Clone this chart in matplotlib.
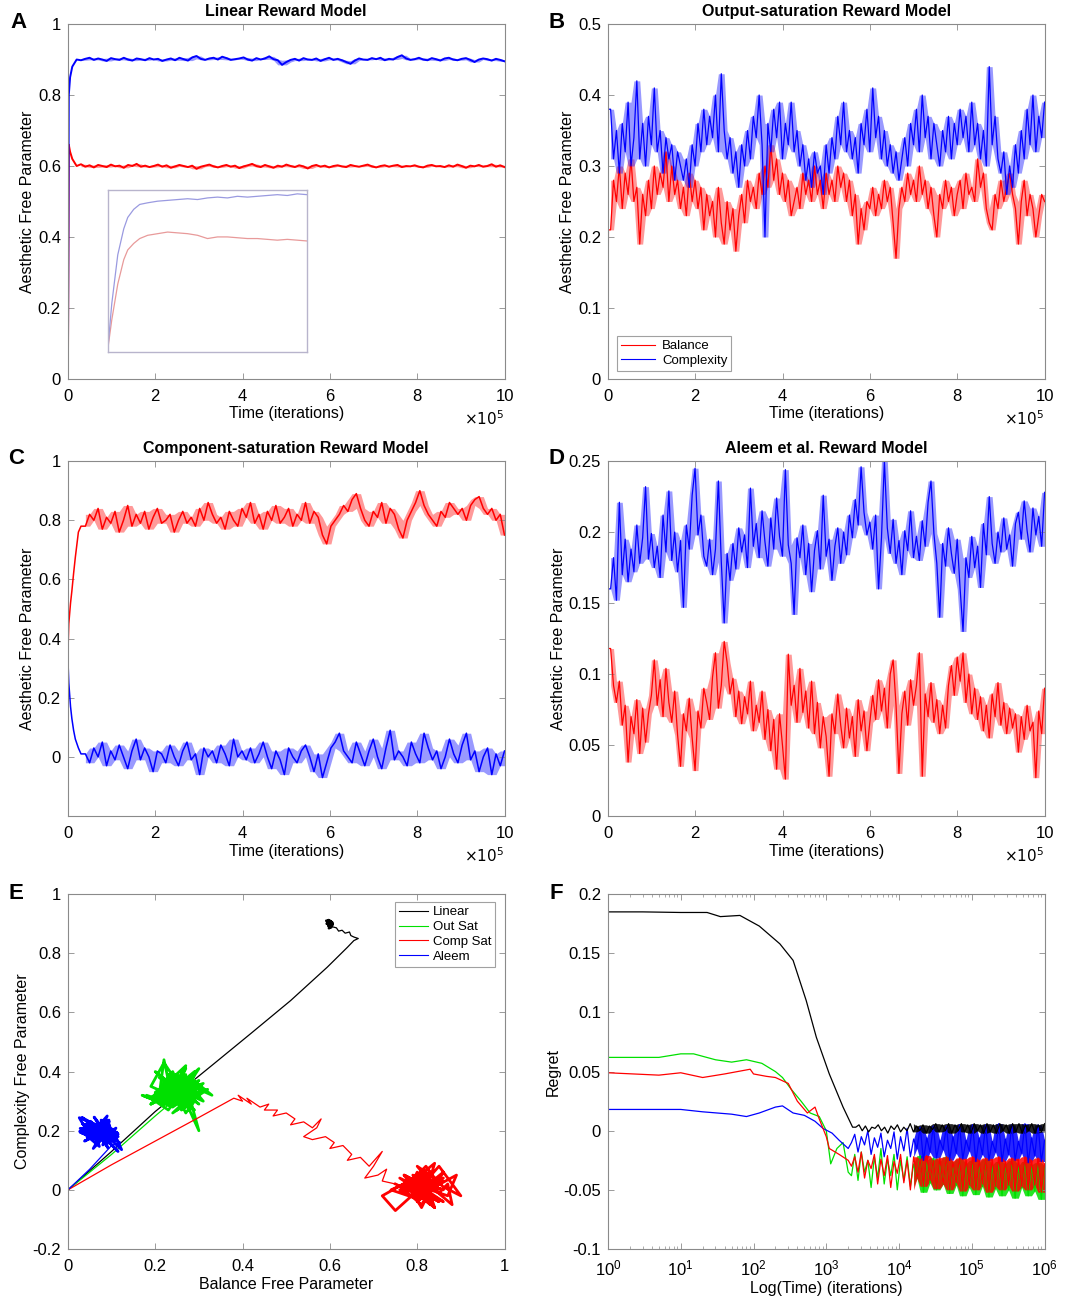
import numpy as np
import matplotlib.pyplot as plt

plt.rcParams['font.family'] = ['Liberation Sans', 'DejaVu Sans']

RED = '#ff0000'
BLUE = '#0000ff'
GREEN = '#00e000'
BLACK = '#000000'

# ---------------- A: Linear reward model (time in units of 1e5) ----------------
a_t0 = [0, 0.02, 0.05, 0.1, 0.15, 0.2]
a_bal0 = [0, 0.66, 0.64, 0.62, 0.61, 0.60]
a_cpx0 = [0, 0.80, 0.85, 0.88, 0.89, 0.90]
a_bal = [605, 598, 602, 596, 603, 600, 597, 604, 599, 601, 595, 603, 600, 606, 598, 601, 597, 600, 604, 598,
         602, 595, 599, 603, 600, 597, 601, 592, 598, 601, 604, 599, 596, 600, 603, 598, 601, 594, 599, 602,
         606, 600, 597, 603, 599, 595, 601, 598, 604, 600, 597, 602, 599, 593, 600, 603, 598, 601, 596, 600,
         602, 599, 597, 603, 600, 598, 601, 604, 599, 596, 600, 602, 598, 601, 603, 597, 600, 599, 602, 598,
         596, 601, 603, 599, 600, 597, 602, 598, 604, 600, 595, 601, 599, 603, 598, 600, 605, 598, 602, 597]
a_cpx = [898, 902, 905, 899, 903, 900, 896, 904, 901, 899, 905, 900, 897, 903, 901, 898, 904, 900, 902, 896,
         900, 903, 898, 905, 901, 897, 906, 910, 902, 899, 903, 905, 900, 908, 904, 899, 901, 903, 906, 900,
         897, 904, 900, 903, 909, 901, 898, 885, 893, 899, 902, 897, 904, 900, 899, 903, 896, 901, 905, 899,
         902, 898, 893, 888, 897, 903, 900, 899, 904, 901, 905, 898, 902, 900, 907, 912, 903, 899, 901, 905,
         900, 898, 904, 901, 897, 903, 905, 900, 898, 902, 904, 899, 893, 900, 903, 901, 897, 902, 899, 895]

# inset of A (early transient, normalised box coordinates)
ins_x = [0, 0.02, 0.05, 0.08, 0.1, 0.13, 0.16, 0.2, 0.25, 0.3, 0.35, 0.4, 0.45, 0.5, 0.55, 0.6,
         0.65, 0.7, 0.75, 0.8, 0.85, 0.9, 0.95, 1.0]
ins_cpx = [0.02, 0.30, 0.60, 0.76, 0.83, 0.88, 0.91, 0.92, 0.93, 0.935, 0.94, 0.945, 0.94, 0.95, 0.955, 0.95,
           0.96, 0.955, 0.96, 0.965, 0.97, 0.965, 0.975, 0.97]
ins_bal = [0.02, 0.20, 0.42, 0.57, 0.63, 0.67, 0.70, 0.72, 0.73, 0.74, 0.735, 0.73, 0.72, 0.70, 0.71, 0.71,
           0.705, 0.70, 0.70, 0.695, 0.69, 0.695, 0.69, 0.685]

# ---------------- B: Output-saturation ----------------
b_t0 = [0, 0.01]
b_bal0 = [0, 0.21]
b_cpx0 = [0, 0.38]
b_cpx = [38, 31, 35, 29, 36, 32, 39, 30, 34, 42, 31, 36, 30, 37, 33,
         41, 32, 35, 29, 34, 31, 33, 28, 32, 30, 28, 31, 27, 33, 30,
         36, 32, 38, 33, 37, 34, 40, 32, 43, 35, 31, 34, 29, 32, 27,
         33, 30, 35, 31, 37, 34, 40, 33, 20, 36, 32, 38, 34, 39, 31,
         36, 33, 39, 32, 35, 30, 33, 28, 31, 27, 32, 29, 30, 26, 33,
         29, 34, 31, 37, 33, 39, 32, 35, 31, 34, 29, 36, 33, 38, 32,
         41, 34, 37, 31, 35, 30, 33, 29, 32, 28, 31, 34, 30, 36, 33,
         38, 32, 40, 34, 37, 31, 36, 33, 30, 35, 32, 37, 31, 36, 33,
         38, 34, 37, 32, 39, 33, 36, 31, 35, 30, 44, 33, 37, 31, 29,
         32, 26, 30, 27, 33, 29, 35, 31, 38, 33, 40, 32, 37, 34, 39]
b_bal = [21, 28, 25, 30, 24, 29, 26, 31, 25, 27, 19, 26, 23, 28, 24,
         30, 26, 29, 27, 32, 25, 30, 26, 28, 24, 27, 23, 29, 25, 28,
         24, 27, 21, 26, 23, 25, 20, 27, 22, 19, 25, 21, 24, 18, 23,
         26, 22, 28, 25, 27, 24, 29, 26, 30, 27, 33, 28, 31, 26, 29,
         25, 28, 23, 25, 27, 24, 29, 26, 28, 25, 30, 26, 28, 24, 29,
         26, 28, 25, 30, 27, 29, 25, 28, 23, 26, 19, 24, 21, 25, 24,
         27, 23, 26, 24, 28, 25, 27, 22, 17, 24, 27, 25, 29, 26, 28,
         25, 30, 26, 28, 24, 27, 23, 20, 26, 24, 28, 25, 27, 23, 26,
         28, 24, 29, 26, 27, 25, 31, 27, 29, 24, 22, 21, 26, 24, 28,
         25, 27, 29, 26, 24, 19, 25, 28, 23, 26, 24, 20, 23, 26, 25]

# ---------------- C: Component-saturation ----------------
c_t0 = [0, 0.02, 0.06, 0.09, 0.13, 0.17, 0.24, 0.3]
c_bal0 = [0.35, 0.45, 0.52, 0.56, 0.62, 0.675, 0.76, 0.78]
c_cpx0 = [0.33, 0.25, 0.17, 0.13, 0.09, 0.06, 0.03, 0.01]
c_bal = [78, 82, 80, 84, 77, 81, 79, 83, 76, 80, 85, 78, 82, 79, 83, 77, 81, 84, 79, 80,
         82, 76, 80, 83, 79, 81, 78, 84, 80, 86, 82, 79, 81, 77, 83, 80, 78, 84, 81, 86,
         79, 82, 77, 83, 80, 85, 79, 81, 84, 78, 82, 80, 86, 79, 83, 81, 75, 72, 78, 80,
         82, 85, 83, 87, 89, 84, 80, 78, 83, 81, 86, 79, 84, 82, 77, 74, 80, 83, 86, 90,
         85, 82, 80, 78, 83, 81, 86, 84, 82, 84, 80, 85, 87, 88, 84, 82, 84, 80, 82, 75]
c_cpx = [1, -2, 3, 0, 5, -3, 2, -1, 4, 0, -4, 2, 6, -1, 3, 0, -5, 2, 1, -2,
         4, 0, -3, 2, 5, -1, 1, -6, 3, 0, 2, -2, 4, 1, -3, 6, 0, 2, -1, 3,
         -2, 1, 5, 0, -4, 2, -1, -6, 3, 0, -2, 2, 4, 0, -5, 1, -7, -2, 3, 5,
         8, 2, 0, -2, 5, 1, -3, 2, 6, 0, -4, 3, 9, -1, 2, 0, -3, 5, 1, -2,
         8, 3, -1, 2, -4, 0, 6, 1, -2, 4, 8, -1, 2, -5, 0, 3, -6, 1, -3, 2]

# ---------------- D: Aleem et al. ----------------
d_t0 = [0, 0.01]
d_bal0 = [0, 0.118]
d_cpx0 = [0, 0.16]
d_cpx = [160, 182, 152, 221, 170, 195, 165, 188, 172, 205, 178, 196, 232, 181, 199,
         175, 190, 168, 212, 186, 229, 180, 200, 172, 194, 147, 205, 188, 226, 245,
         198, 212, 183, 176, 195, 170, 188, 236, 179, 136, 185, 166, 192, 174, 203,
         186, 198, 175, 231, 190, 206, 182, 215, 193, 176, 210, 188, 224, 197, 183,
         244, 191, 178, 142, 196, 182, 205, 170, 192, 158, 187, 201, 174, 226, 183,
         195, 166, 190, 203, 178, 200, 184, 212, 196, 223, 205, 246, 214, 198, 207,
         188, 212, 160, 196, 250, 203, 185, 209, 178, 194, 170, 201, 187, 215, 182,
         197, 180, 208, 190, 221, 236, 199, 178, 140, 192, 176, 203, 185, 171, 195,
         160, 130, 182, 168, 197, 175, 190, 161, 206, 184, 225, 192, 178, 200, 186,
         210, 188, 198, 176, 206, 214, 195, 222, 201, 186, 217, 198, 211, 190, 228]
d_bal = [118, 92, 80, 95, 64, 78, 38, 70, 58, 82, 44, 76, 52, 72, 85,
         110, 78, 96, 70, 104, 80, 66, 88, 57, 35, 72, 60, 83, 55, 32,
         74, 62, 90, 80, 68, 98, 115, 76, 92, 123, 108, 86, 97, 70, 88,
         65, 84, 72, 95, 60, 78, 66, 88, 54, 75, 46, 68, 33, 72, 50,
         26, 114, 78, 92, 66, 104, 73, 88, 62, 95, 58, 80, 48, 70, 56,
         28, 72, 58, 86, 64, 48, 76, 55, 70, 42, 82, 60, 74, 46, 66,
         85, 68, 96, 74, 90, 62, 100, 110, 78, 30, 72, 88, 64, 96, 78,
         92, 115, 28, 86, 70, 94, 66, 82, 58, 78, 62, 92, 106, 85, 112,
         95, 115, 80, 100, 72, 90, 68, 84, 60, 78, 55, 86, 70, 94, 64,
         80, 58, 76, 62, 72, 45, 70, 54, 78, 60, 66, 27, 74, 58, 90]

# ---------------- E: transient paths (balance, complexity) ----------------
e_lin_x = [0, 0.05, 0.1, 0.2, 0.334, 0.42, 0.51, 0.594, 0.64, 0.655, 0.665, 0.655, 0.648, 0.645,
           0.635, 0.628, 0.62, 0.615, 0.605]
e_lin_y = [0, 0.065, 0.13, 0.265, 0.426, 0.53, 0.64, 0.753, 0.82, 0.843, 0.85, 0.855, 0.86, 0.872,
           0.868, 0.878, 0.875, 0.886, 0.89]
e_out_x = [0, 0.1, 0.2, 0.24]
e_out_y = [0, 0.12, 0.25, 0.30]
e_comp_x = [0, 0.1, 0.2, 0.3, 0.38, 0.40, 0.39, 0.42, 0.41, 0.44, 0.46, 0.45, 0.48, 0.47, 0.50, 0.52,
            0.51, 0.54, 0.56, 0.58, 0.57, 0.54, 0.56, 0.59, 0.61, 0.60, 0.63, 0.65, 0.64, 0.67, 0.69,
            0.72, 0.70, 0.68, 0.71, 0.73, 0.72, 0.75]
e_comp_y = [0, 0.085, 0.165, 0.245, 0.31, 0.30, 0.32, 0.29, 0.31, 0.28, 0.29, 0.27, 0.27, 0.25, 0.26,
            0.24, 0.22, 0.23, 0.21, 0.24, 0.21, 0.18, 0.17, 0.18, 0.16, 0.14, 0.15, 0.12, 0.10, 0.11,
            0.08, 0.13, 0.08, 0.04, 0.05, 0.07, 0.03, 0.02]
e_aleem_x = [0, 0.05, 0.1]
e_aleem_y = [0, 0.07, 0.15]
e_labels = ['Linear', 'Out Sat', 'Comp Sat', 'Aleem']

# ---------------- F: regret vs log time ----------------
f_lin_t = [1, 3, 10, 23, 35, 65, 120, 230, 350, 530, 730, 1100, 1700, 2300]
f_lin = [0.185, 0.185, 0.1845, 0.1845, 0.181, 0.182, 0.173, 0.158, 0.144, 0.110, 0.079, 0.048, 0.020, 0.003]
f_lin_n = [3, 5, 0, 4, -1, 3, 2, 5, 0, 3, -2, 4, 1, 5, -1, 3, 0, 6, -1, 4, 0, 5, -2, 4, 1, 6, -1, 5, 0, 6,
           -2, 5, 0, 6, -1, 5, -2, 6, 0, 5, -2, 6, -1, 5, -2, 6, 0, 5, -2, 6, -1, 6, -2, 5, 0, 6, -2, 5, -1, 6]
f_out_t = [1, 5, 10, 15, 30, 50, 80, 130, 200, 250, 330, 450, 600, 800, 1000, 1150, 1400, 1700, 2000]
f_out = [0.062, 0.062, 0.065, 0.065, 0.060, 0.058, 0.060, 0.057, 0.050, 0.045, 0.035, 0.025, 0.015, 0.012,
         0.0, -0.028, -0.015, -0.01, -0.035]
f_out_n = [-38, -20, -42, -18, -35, -25, -48, -22, -40, -15, -45, -24, -38, -20, -50, -25, -42, -22, -47, -28,
           -40, -21, -52, -25, -44, -23, -50, -26, -45, -22, -53, -27, -46, -24, -55, -28, -48, -25, -54, -27,
           -47, -24, -56, -29, -49, -26, -55, -28, -50, -25, -57, -30, -48, -26, -55, -29, -51, -27, -58, -30]
f_comp_t = [1, 5, 10, 20, 40, 90, 100, 150, 200, 300, 400, 550, 700, 800, 1000, 1100, 1500, 2000]
f_comp = [0.049, 0.047, 0.049, 0.045, 0.048, 0.052, 0.048, 0.046, 0.045, 0.040, 0.025, 0.015, 0.020, 0.010,
          -0.005, -0.015, -0.02, -0.025]
f_comp_n = [-30, -22, -35, -18, -40, -25, -32, -20, -45, -24, -38, -21, -48, -26, -36, -20, -44, -25, -50, -22,
            -40, -24, -47, -21, -42, -25, -49, -23, -45, -22, -50, -26, -44, -23, -51, -24, -46, -22, -50, -25,
            -45, -23, -52, -24, -47, -22, -50, -26, -46, -23, -51, -24, -47, -22, -50, -25, -46, -23, -52, -28]
f_aleem_t = [1, 10, 20, 50, 80, 120, 200, 250, 350, 500, 700, 900, 1200, 1500, 2000]
f_aleem = [0.018, 0.018, 0.016, 0.014, 0.012, 0.015, 0.020, 0.021, 0.015, 0.013, 0.008, 0.002, -0.002,
           -0.008, -0.015]
f_aleem_n = [-10, -3, -18, -5, -12, 0, -20, -6, -14, -2, -22, -8, -15, -1, -24, -5, -17, 2, -22, -7,
             -15, 3, -25, -6, -18, 4, -23, -8, -16, 4, -25, -5, -19, 5, -24, -8, -17, 5, -26, -6,
             -20, 5, -25, -9, -18, 6, -26, -7, -20, 5, -25, -9, -19, 6, -27, -6, -21, 5, -26, -8]


def style(ax):
    for s in ax.spines.values():
        s.set_color('#8a8a8a')
        s.set_linewidth(0.8)
    ax.tick_params(direction='in', top=True, right=True, length=4, width=0.6,
                   color='#8a8a8a', labelsize=12, labelcolor='black', pad=5)
    ax.tick_params(axis='x', pad=7)


def fmt(v):
    return '%g' % v


def local_band(v):
    # min / max of each value and its neighbours: the dense noise band
    lo = [min(v[max(0, i - 1):i + 2]) for i in range(len(v))]
    hi = [max(v[max(0, i - 1):i + 2]) for i in range(len(v))]
    return lo, hi


def time_panel(ax, title, t0, bal0, cpx0, bal, cpx, scale, t_start, ylim, yticks, lw):
    for v0, st, col, lab in [(bal0, bal, RED, 'Balance'), (cpx0, cpx, BLUE, 'Complexity')]:
        ts = list(np.linspace(t_start, 10, len(st)))
        vs = [x / scale for x in st]
        lo, hi = local_band(vs)
        ax.fill_between(ts, lo, hi, color=col, alpha=0.4, lw=0)
        ax.plot(list(t0) + ts, list(v0) + vs, color=col, lw=lw, label=lab)
    ax.set_xlim(0, 10)
    ax.set_ylim(*ylim)
    ax.set_xticks([0, 2, 4, 6, 8, 10])
    ax.set_xticklabels(['0', '2', '4', '6', '8', '10'])
    ax.set_yticks(yticks)
    ax.set_yticklabels([fmt(y) for y in yticks])
    ax.set_xlabel('Time (iterations)', fontsize=11.5, labelpad=2)
    ax.set_ylabel('Aesthetic Free Parameter', fontsize=11.5, labelpad=2)
    ax.set_title(title, fontsize=11.5, fontweight='bold', pad=6)
    ax.text(1.0, -0.085, r'$\times10^{5}$', transform=ax.transAxes, ha='right', va='top', fontsize=11)
    style(ax)


fig = plt.figure(figsize=(10.78, 13), dpi=100)

col_l = [0.063, 0.564]
width = 0.405
rows_b = [0.7085, 0.3723, 0.0392]
height = 0.273

axA = fig.add_axes([col_l[0], rows_b[0], width, height])
axB = fig.add_axes([col_l[1], rows_b[0], width, height])
axC = fig.add_axes([col_l[0], rows_b[1], width, height])
axD = fig.add_axes([col_l[1], rows_b[1], width, height])
axE = fig.add_axes([col_l[0], rows_b[2], width, height])
axF = fig.add_axes([col_l[1], rows_b[2], width, height])

time_panel(axA, 'Linear Reward Model', a_t0, a_bal0, a_cpx0, a_bal, a_cpx, 1000.0, 0.3,
           (0, 1), [0, 0.2, 0.4, 0.6, 0.8, 1], 1.4)
time_panel(axB, 'Output-saturation Reward Model', b_t0, b_bal0, b_cpx0, b_bal, b_cpx, 100.0, 0.06,
           (0, 0.5), [0, 0.1, 0.2, 0.3, 0.4, 0.5], 0.9)
time_panel(axC, 'Component-saturation Reward Model', c_t0, c_bal0, c_cpx0, c_bal, c_cpx, 100.0, 0.4,
           (-0.2, 1), [0, 0.2, 0.4, 0.6, 0.8, 1], 1.1)
time_panel(axD, 'Aleem et al. Reward Model', d_t0, d_bal0, d_cpx0, d_bal, d_cpx, 1000.0, 0.06,
           (0, 0.25), [0, 0.05, 0.1, 0.15, 0.2, 0.25], 0.9)

leg = axB.legend(loc='lower left', bbox_to_anchor=(0.015, 0.015), fontsize=9.5, frameon=True,
                 fancybox=False, handlelength=2.6, borderpad=0.3, labelspacing=0.2, handletextpad=0.5,
                 borderaxespad=0.2)
leg.get_frame().set_edgecolor('#8a8a8a')
leg.get_frame().set_linewidth(0.8)
for line in leg.get_lines():
    line.set_linewidth(0.8)

# inset in A
axIn = fig.add_axes([0.100, 0.729, 0.185, 0.125])
axIn.plot(ins_x, ins_bal, color='#e89a9a', lw=0.9)
axIn.plot(ins_x, ins_cpx, color='#9a9ae0', lw=0.9)
axIn.set_xlim(0, 1)
axIn.set_ylim(0, 1)
axIn.set_xticks([])
axIn.set_yticks([])
for s in axIn.spines.values():
    s.set_color('#b8b4cc')
    s.set_linewidth(1.0)

# E: transient path, then the steady-state cloud from panels A-D
paths = [
    (e_lin_x, e_lin_y, [v / 1000.0 for v in a_bal], [v / 1000.0 for v in a_cpx], BLACK),
    (e_out_x, e_out_y, [v / 100.0 for v in b_bal], [v / 100.0 for v in b_cpx], GREEN),
    (e_comp_x, e_comp_y, [v / 100.0 for v in c_bal], [v / 100.0 for v in c_cpx], RED),
    (e_aleem_x, e_aleem_y, [v / 1000.0 for v in d_bal], [v / 1000.0 for v in d_cpx], BLUE),
]
for (px, py, cx, cy, col), lab in zip(paths, e_labels):
    axE.plot(px + cx[:1], py + cy[:1], color=col, lw=0.9, label=lab)
    axE.plot(cx, cy, color=col, lw=2.0, solid_joinstyle='round')
axE.set_xlim(0, 1)
axE.set_ylim(-0.2, 1)
xt = [0, 0.2, 0.4, 0.6, 0.8, 1]
yt = [-0.2, 0, 0.2, 0.4, 0.6, 0.8, 1]
axE.set_xticks(xt)
axE.set_xticklabels([fmt(v) for v in xt])
axE.set_yticks(yt)
axE.set_yticklabels([fmt(v) for v in yt])
axE.set_xlabel('Balance Free Parameter', fontsize=11.5, labelpad=2)
axE.set_ylabel('Complexity Free Parameter', fontsize=11.5, labelpad=2)
style(axE)
legE = axE.legend(loc='upper right', bbox_to_anchor=(0.985, 0.985), fontsize=9.5, frameon=True,
                  fancybox=False, handlelength=2.2, borderpad=0.3, labelspacing=0.2, handletextpad=0.4,
                  borderaxespad=0.2)
legE.get_frame().set_edgecolor('#8a8a8a')
legE.get_frame().set_linewidth(0.8)
for line in legE.get_lines():
    line.set_linewidth(0.8)


# F
def regret(t, v, noise, col):
    tn = list(np.logspace(np.log10(t[-1]), 6, len(noise) + 1))[1:]
    vn = [n / 1000.0 for n in noise]
    lo, hi = local_band(vn)
    keep = [i for i in range(len(tn)) if tn[i] > 1.5e4]
    axF.fill_between([tn[i] for i in keep], [lo[i] for i in keep], [hi[i] for i in keep],
                     color=col, alpha=0.85, lw=0)
    axF.plot(list(t) + tn, list(v) + vn, color=col, lw=0.9)


regret(f_out_t, f_out, f_out_n, GREEN)
regret(f_aleem_t, f_aleem, f_aleem_n, BLUE)
regret(f_comp_t, f_comp, f_comp_n, RED)
regret(f_lin_t, f_lin, f_lin_n, BLACK)
axF.set_xscale('log')
axF.set_xlim(1, 1e6)
axF.set_ylim(-0.1, 0.2)
ft = [-0.1, -0.05, 0, 0.05, 0.1, 0.15, 0.2]
axF.set_yticks(ft)
axF.set_yticklabels([fmt(v) for v in ft])
axF.set_xlabel('Log(Time) (iterations)', fontsize=11.5, labelpad=2)
axF.set_ylabel('Regret', fontsize=11.5, labelpad=2)
style(axF)
axF.tick_params(which='minor', direction='in', top=True, length=2, width=0.5, color='#8a8a8a')

letters = [('A', 0.017, 0.983), ('B', 0.516, 0.983), ('C', 0.015, 0.647), ('D', 0.516, 0.647),
           ('E', 0.015, 0.313), ('F', 0.516, 0.313)]
for lt, x, y in letters:
    fig.text(x, y, lt, fontsize=16, fontweight='bold', ha='center', va='center')

fig.savefig('out.png', dpi=100)
